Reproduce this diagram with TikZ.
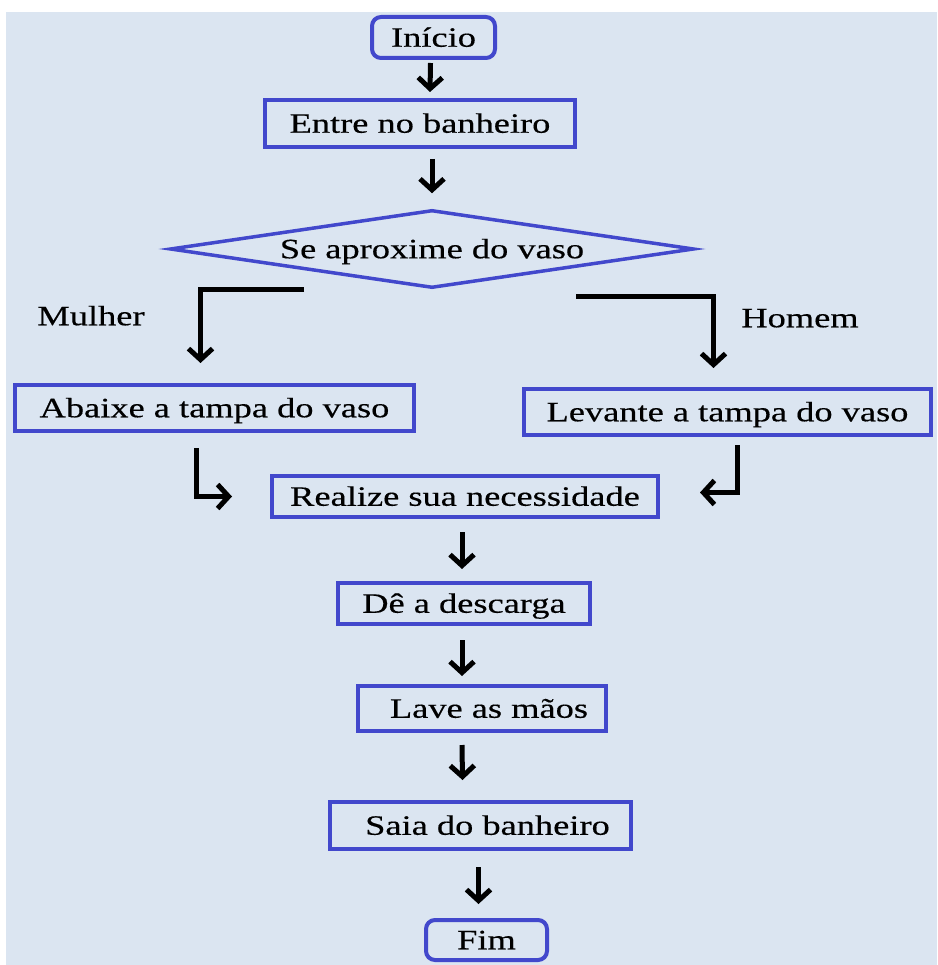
\documentclass[tikz,border=0pt]{standalone}
\usepackage{fontspec}
\setmainfont{Liberation Serif}[FakeStretch=1.3,FakeBold=0.4]
\usetikzlibrary{arrows.meta,shapes.geometric}
\definecolor{pagebg}{RGB}{219,229,241}
\definecolor{boxblue}{RGB}{66,72,204}
\begin{document}
\begin{tikzpicture}[x=1pt,y=-1pt,
  font=\fontsize{28pt}{34pt}\selectfont,
  txt/.style={inner sep=0pt,text height=18.5pt,text depth=0pt},
  stepbox/.style={txt,draw=boxblue,line width=4pt},
  termbox/.style={stepbox,rounded corners=9pt},
  decision/.style={txt,draw=boxblue,line width=3.5pt,diamond,aspect=6.4},
  flow/.style={black,line width=5pt,-{Straight Barb[length=11pt,width=24pt]}},
  branch/.style={flow,line width=5pt}
]
\useasboundingbox (0,0) rectangle (937,965);
\fill[white] (0,0) rectangle (937,965);
\fill[pagebg] (6,12) rectangle (937,965);

% boxes of the flow
\node[termbox,minimum width=123pt,minimum height=41pt] (inicio) at (433.5,37.5) {Início};
\node[stepbox,minimum width=310pt,minimum height=47pt] (entre) at (420,123.5) {Entre no banheiro};
\node[decision,minimum width=524pt,minimum height=78pt] (aprox) at (432,249) {Se aproxime do vaso};
\node[stepbox,minimum width=399pt,minimum height=46pt] (abaixe) at (214.5,408) {Abaixe a tampa do vaso};
\node[stepbox,minimum width=407pt,minimum height=46pt] (levante) at (727.5,412) {Levante a tampa do vaso};
\node[stepbox,minimum width=386pt,minimum height=41pt] (realize) at (465,496.5) {Realize sua necessidade};
\node[stepbox,minimum width=252pt,minimum height=41pt] (descarga) at (464,603.5) {Dê a descarga};
\node[stepbox,minimum width=248pt,minimum height=45pt] (lave) at (482,708.5) {\hspace*{14pt}Lave as mãos};
\node[stepbox,minimum width=301pt,minimum height=47pt] (saia) at (480.5,825.5) {\hspace*{14pt}Saia do banheiro};
\node[termbox,minimum width=121pt,minimum height=40pt] (fim) at (486.5,940) {Fim};

% branch labels
\node[txt] (mulher) at (91,316) {Mulher};
\node[txt] (homem) at (800,318) {Homem};

% straight connectors
\draw[flow] ([xshift=-3pt,yshift=-3pt]inicio.south) -- ([xshift=10pt,yshift=6pt]entre.north);
\draw[flow] ([xshift=12pt,yshift=-10pt]entre.south) -- ([yshift=15pt]aprox.north);
\draw[flow] ([xshift=-3pt,yshift=-13pt]realize.south) -- ([xshift=-2pt,yshift=12pt]descarga.north);
\draw[flow] ([xshift=-2pt,yshift=-14pt]descarga.south) -- ([xshift=-20pt,yshift=8pt]lave.north);
\draw[flow] ([xshift=-20pt,yshift=-12pt]lave.south) -- ([xshift=-18pt,yshift=20pt]saia.north);
\draw[flow] ([xshift=-2pt,yshift=-16pt]saia.south) -- ([xshift=-8pt,yshift=14pt]fim.north);

% branches out of the decision
\draw[branch] ([xshift=-128pt]aprox.south) -| ([xshift=-14pt,yshift=20pt]abaixe.north);
\draw[branch] ([xshift=144pt,yshift=-7pt]aprox.south) -| ([xshift=-14pt,yshift=19pt]levante.north);

% branches joining again
\draw[branch] ([xshift=-18pt,yshift=-15pt]abaixe.south) |- ([xshift=-38pt]realize.west);
\draw[branch] ([xshift=10pt,yshift=-8pt]levante.south) |- ([xshift=40pt,yshift=4pt]realize.east);
\end{tikzpicture}
\end{document}
